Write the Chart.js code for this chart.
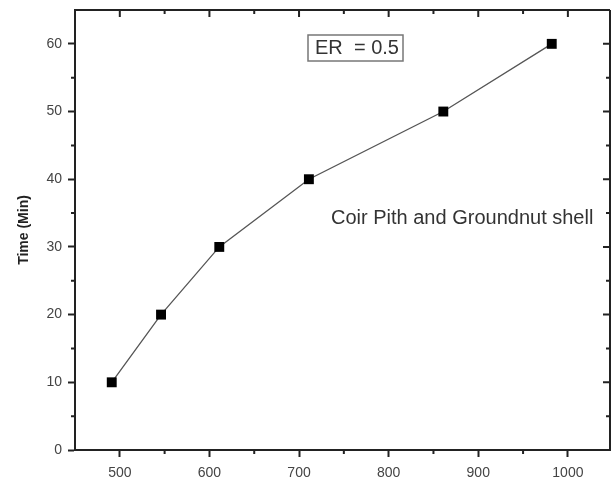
<!DOCTYPE html>
<html>
<head>
<meta charset="utf-8">
<script src="https://cdn.jsdelivr.net/npm/chart.js@4"></script>
<style>
  html, body { margin: 0; padding: 0; background: #fff; }
  #wrap { width: 611px; height: 483px; }
</style>
</head>
<body>
<div id="wrap"><canvas id="graphCanvas" width="611" height="483"></canvas></div>
<script>
    const temperature = [491, 546, 611, 711, 861, 982];
    const timeMin = [10, 20, 30, 40, 50, 60];
    const xTicks = [500, 600, 700, 800, 900, 1000];
    const yTicks = [0, 10, 20, 30, 40, 50, 60];

    const points = temperature.map((t, i) => ({ x: t, y: timeMin[i] }));

    // frame, minor ticks, inward ticks on top/right and the two text notes
    const framePlugin = {
        id: 'frame',
        afterDraw(chart) {
            const c = chart.ctx;
            const a = chart.chartArea;
            const xs = chart.scales.x;
            const ys = chart.scales.y;
            c.save();
            c.strokeStyle = '#222';
            c.lineWidth = 2;
            c.beginPath();
            c.moveTo(a.left, a.top); c.lineTo(a.right, a.top);
            c.moveTo(a.right, a.top); c.lineTo(a.right, a.bottom);
            c.stroke();

            c.lineWidth = 2;
            c.beginPath();
            for (let v = 450; v <= 1050; v += 50) {
                const px = xs.getPixelForValue(v);
                if (px < a.left + 2 || px > a.right - 2) continue;
                const major = v % 100 === 0;
                if (!major) {
                    c.moveTo(px, a.bottom); c.lineTo(px, a.bottom + 4);
                }
                c.moveTo(px, a.top); c.lineTo(px, a.top + (major ? 7 : 4));
            }
            for (let v = 5; v <= 65; v += 5) {
                const py = ys.getPixelForValue(v);
                if (py < a.top + 2) continue;
                const major = v % 10 === 0;
                if (!major) {
                    c.moveTo(a.left, py); c.lineTo(a.left - 4, py);
                }
                c.moveTo(a.right, py); c.lineTo(a.right - (major ? 7 : 4), py);
            }
            c.stroke();

            // ER box
            c.strokeStyle = '#777';
            c.lineWidth = 1.5;
            c.strokeRect(308, 35, 95, 26);
            c.fillStyle = '#333';
            c.font = '20px "Liberation Sans", Arial, sans-serif';
            c.textBaseline = 'middle';
            c.textAlign = 'left';
            c.fillText('ER  = 0.5', 315, 48.5);

            c.fillText('Coir Pith and Groundnut shell', 331, 218);
            c.restore();
        }
    };

    new Chart(document.getElementById('graphCanvas'), {
        type: 'scatter',
        data: {
            datasets: [{
                label: 'Coir Pith and Groundnut shell',
                data: points,
                showLine: true,
                borderColor: '#555',
                borderWidth: 1.3,
                pointStyle: 'rect',
                pointRadius: 7,
                pointHoverRadius: 7,
                pointBackgroundColor: '#000',
                pointBorderColor: '#000',
                pointBorderWidth: 0
            }]
        },
        options: {
            responsive: false,
            animation: false,
            layout: {
                autoPadding: false,
                padding: { top: 10, right: 1, left: 0, bottom: 0 }
            },
            plugins: {
                legend: { display: false },
                tooltip: { enabled: false }
            },
            scales: {
                x: {
                    type: 'linear',
                    min: 450,
                    max: 1047,
                    afterBuildTicks: (scale) => {
                        scale.ticks = xTicks.map(v => ({ value: v }));
                    },
                    afterFit: (scale) => {
                        scale.height = 33;
                        scale.paddingLeft = 0;
                        scale.paddingRight = 0;
                    },
                    ticks: {
                        color: '#444',
                        font: { family: '"Liberation Sans", Arial, sans-serif', size: 14 },
                        padding: 8,
                        callback: (v) => String(v)
                    },
                    grid: {
                        drawOnChartArea: false,
                        drawTicks: true,
                        tickLength: 7,
                        tickWidth: 2,
                        tickColor: '#222'
                    },
                    border: { color: '#222', width: 2 }
                },
                y: {
                    type: 'linear',
                    min: 0,
                    max: 65,
                    afterBuildTicks: (scale) => {
                        scale.ticks = yTicks.map(v => ({ value: v }));
                    },
                    afterFit: (scale) => {
                        scale.width = 75;
                        scale.paddingTop = 0;
                        scale.paddingBottom = 0;
                    },
                    ticks: {
                        color: '#444',
                        font: { family: '"Liberation Sans", Arial, sans-serif', size: 14 },
                        padding: 6,
                        callback: (v) => String(v)
                    },
                    title: {
                        display: true,
                        text: 'Time (Min)',
                        color: '#222',
                        font: { family: '"Liberation Sans", Arial, sans-serif', size: 14, weight: 'bold' },
                        padding: { top: 16, bottom: 4 }
                    },
                    grid: {
                        drawOnChartArea: false,
                        drawTicks: true,
                        tickLength: 7,
                        tickWidth: 2,
                        tickColor: '#222'
                    },
                    border: { color: '#222', width: 2 }
                }
            }
        },
        plugins: [framePlugin]
    });
</script>
</body>
</html>
